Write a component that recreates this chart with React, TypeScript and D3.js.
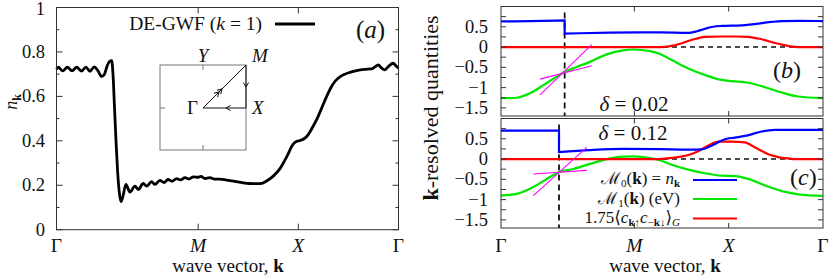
import React from "react";
import * as d3 from "d3";

// ---- path coordinates along Γ–M–X–Γ ----
const S_M = Math.SQRT2;
const S_X = 1 + Math.SQRT2;
const S_END = 2 + Math.SQRT2;
const kTickPos = [0, S_M, S_X, S_END];
const kTickLabels = ["Γ", "M", "X", "Γ"];
const kTickItalic = [false, true, true, false];

// ---- tick labels ----
const nkTicks = [0, 0.2, 0.4, 0.6, 0.8, 1];
const nkTickLabels = ["0", "0.2", "0.4", "0.6", "0.8", "1"];
const nkMinor = [0.1, 0.3, 0.5, 0.7, 0.9];
const qTicks = [0.5, 0, -0.5, -1, -1.5];
const qTickLabels = ["0.5", "0", "−0.5", "−1", "−1.5"];
const qMinor = [0.75, 0.25, -0.25, -0.75, -1.25];

// ---- panel (a): n_k along path ----
const nkData: [number, number][] = [
  [0.0, 0.722], [0.018, 0.731], [0.062, 0.715], [0.108, 0.731], [0.155, 0.715],
  [0.202, 0.731], [0.248, 0.714], [0.294, 0.732], [0.334, 0.713], [0.377, 0.733],
  [0.414, 0.715], [0.451, 0.69], [0.479, 0.7], [0.504, 0.735], [0.529, 0.757],
  [0.551, 0.761], [0.564, 0.7], [0.579, 0.55], [0.594, 0.4], [0.609, 0.27],
  [0.629, 0.16], [0.644, 0.126], [0.663, 0.15], [0.693, 0.204], [0.733, 0.169],
  [0.783, 0.196], [0.816, 0.181], [0.866, 0.208], [0.9, 0.196], [0.95, 0.216],
  [0.983, 0.204], [1.033, 0.222], [1.073, 0.212], [1.113, 0.226], [1.153, 0.218],
  [1.198, 0.23], [1.238, 0.224], [1.282, 0.234], [1.322, 0.228], [1.367, 0.238],
  [1.415, 0.236], [1.442, 0.24], [1.482, 0.23], [1.532, 0.234], [1.572, 0.228],
  [1.632, 0.228], [1.699, 0.223], [1.781, 0.217], [1.864, 0.211], [1.931, 0.208],
  [1.998, 0.207], [2.051, 0.209], [2.101, 0.22], [2.164, 0.241], [2.231, 0.275],
  [2.3, 0.33], [2.363, 0.385], [2.4, 0.398], [2.43, 0.401], [2.48, 0.412],
  [2.513, 0.428], [2.555, 0.46], [2.597, 0.495], [2.645, 0.545], [2.697, 0.6],
  [2.74, 0.64], [2.779, 0.667], [2.829, 0.688], [2.879, 0.7], [2.929, 0.708],
  [2.996, 0.716], [3.049, 0.72], [3.112, 0.723], [3.149, 0.724], [3.179, 0.733],
  [3.212, 0.742], [3.244, 0.728], [3.275, 0.719], [3.315, 0.735], [3.361, 0.749],
  [3.388, 0.738], [3.414, 0.727],
];

// ---- panel (b): δ = 0.02 ----
const stepB = 0.675;
const blueB1: [number, number][] = [[0, 0.632], [0.308, 0.64], [0.675, 0.657]];
const blueB2: [number, number][] = [
  [0.675, 0.33], [0.838, 0.34], [1.156, 0.355], [1.474, 0.36], [1.686, 0.36],
  [1.986, 0.35], [2.078, 0.39], [2.163, 0.45], [2.248, 0.5], [2.34, 0.52],
  [2.553, 0.535], [2.659, 0.56], [2.765, 0.59], [2.871, 0.62], [2.977, 0.64],
  [3.171, 0.645], [3.414, 0.64],
];
const redB: [number, number][] = [
  [0, 0], [1.0, 0], [1.686, 0], [1.81, 0.03], [1.898, 0.08], [1.986, 0.15],
  [2.078, 0.21], [2.163, 0.25], [2.34, 0.26], [2.481, 0.26], [2.619, 0.25],
  [2.725, 0.21], [2.831, 0.15], [2.906, 0.1], [2.977, 0.06], [3.065, 0.02],
  [3.149, 0], [3.414, 0],
];
const greenB: [number, number][] = [
  [0, -1.26], [0.166, -1.25], [0.308, -1.14], [0.449, -0.94], [0.591, -0.73],
  [0.679, -0.61], [0.803, -0.49], [0.944, -0.365], [1.121, -0.18], [1.297, -0.08],
  [1.403, -0.06], [1.58, -0.1], [1.686, -0.17], [1.81, -0.32], [1.986, -0.53],
  [2.163, -0.69], [2.34, -0.81], [2.446, -0.84], [2.622, -0.88], [2.8, -0.99],
  [2.977, -1.12], [3.153, -1.22], [3.414, -1.26],
];
const tanB1: [number, number][] = [[0.414, -1.18], [0.962, 0.06]];
const tanB2: [number, number][] = [[0.414, -0.79], [0.962, -0.46]];

// ---- panel (c): δ = 0.12 ----
const stepC = 0.615;
const blueC1: [number, number][] = [[0, 0.7], [0.3, 0.7], [0.615, 0.7]];
const blueC2: [number, number][] = [
  [0.615, 0.17], [0.944, 0.22], [1.297, 0.25], [1.686, 0.245], [1.986, 0.235],
  [2.128, 0.24], [2.195, 0.29], [2.27, 0.37], [2.323, 0.44], [2.375, 0.49],
  [2.481, 0.53], [2.587, 0.57], [2.672, 0.62], [2.765, 0.68], [2.906, 0.72],
  [3.118, 0.72], [3.414, 0.72],
];
const redC: [number, number][] = [
  [0, 0], [1.0, 0], [1.633, 0], [1.81, 0.03], [1.986, 0.1], [2.078, 0.18],
  [2.163, 0.29], [2.237, 0.38], [2.304, 0.43], [2.446, 0.43], [2.587, 0.41],
  [2.64, 0.36], [2.693, 0.29], [2.765, 0.2], [2.834, 0.12], [2.906, 0.07],
  [2.977, 0.03], [3.065, 0.01], [3.118, 0], [3.414, 0],
];
const greenC: [number, number][] = [
  [0, -0.9], [0.166, -0.86], [0.343, -0.69], [0.485, -0.49], [0.608, -0.33],
  [0.767, -0.245], [0.944, -0.12], [1.121, 0.0], [1.297, 0.06], [1.403, 0.065],
  [1.58, 0.025], [1.686, -0.03], [1.81, -0.14], [1.986, -0.26], [2.163, -0.35],
  [2.34, -0.41], [2.481, -0.42], [2.622, -0.49], [2.8, -0.65], [2.977, -0.79],
  [3.153, -0.87], [3.414, -0.91],
];
const tanC1: [number, number][] = [[0.343, -0.9], [0.909, 0.29]];
const tanC2: [number, number][] = [[0.343, -0.37], [0.909, -0.28]];

const FONT = "'Liberation Serif', 'DejaVu Serif', serif";
const BLUE = "#0000ff";
const RED = "#ff0000";
const GREEN = "#00e800";
const MAGENTA = "#ff00ff";
const FRAME = "#333";

type XY = [number, number];

function smooth(x: any, y: any, data: XY[]) {
  return d3
    .line<XY>()
    .x((d) => x(d[0]))
    .y((d) => y(d[1]))
    .curve(d3.curveMonotoneX)(data) as string;
}
function straight(x: any, y: any, data: XY[]) {
  return d3
    .line<XY>()
    .x((d) => x(d[0]))
    .y((d) => y(d[1]))(data) as string;
}
function stepPath(x: any, y: any, a: XY[], b: XY[]) {
  return smooth(x, y, a) + "L" + smooth(x, y, b).slice(1);
}

function KTicks({ x, y0, y1, len }: any) {
  return (
    <g stroke={FRAME} strokeWidth={1}>
      {[S_M, S_X].map((s, i) => (
        <g key={i}>
          <line x1={x(s)} x2={x(s)} y1={y0} y2={y0 - len} />
          <line x1={x(s)} x2={x(s)} y1={y1} y2={y1 + len} />
        </g>
      ))}
    </g>
  );
}

function KLabels({ x, titleX }: any) {
  return (
    <g fontFamily={FONT} fontSize={19.5} textAnchor="middle" fill="#111">
      {kTickPos.map((s, i) => (
        <text key={i} x={x(s)} y={252} fontStyle={kTickItalic[i] ? "italic" : "normal"}>
          {kTickLabels[i]}
        </text>
      ))}
      <text x={titleX} y={272} fontSize={19}>
        wave vector, <tspan fontWeight="bold">k</tspan>
      </text>
    </g>
  );
}

function PanelRight({ x, y, top, bottom, blue1, blue2, red, green, tan1, tan2, step }: any) {
  const [xl, xr] = x.range();
  return (
    <g>
      <line x1={xl} x2={xr} y1={y(0)} y2={y(0)} stroke="#111" strokeWidth={1.4} strokeDasharray="5,4" />
      <line x1={x(step)} x2={x(step)} y1={y(0.85)} y2={bottom} stroke="#111" strokeWidth={1.8} strokeDasharray="6,4" />
      <path d={smooth(x, y, green)} fill="none" stroke={GREEN} strokeWidth={2.2} />
      <path d={smooth(x, y, red)} fill="none" stroke={RED} strokeWidth={2.2} />
      <path d={stepPath(x, y, blue1, blue2)} fill="none" stroke={BLUE} strokeWidth={2.2} />
      <path d={straight(x, y, tan1)} fill="none" stroke={MAGENTA} strokeWidth={1.1} />
      <path d={straight(x, y, tan2)} fill="none" stroke={MAGENTA} strokeWidth={1.1} />
      <rect x={xl} y={top} width={xr - xl} height={bottom - top} fill="none" stroke={FRAME} strokeWidth={1} />
      <g stroke={FRAME} strokeWidth={1}>
        {[...qTicks, ...qMinor].map((v, i) => (
          <g key={i}>
            <line x1={xl} x2={xl + 5} y1={y(v)} y2={y(v)} />
            <line x1={xr} x2={xr - 5} y1={y(v)} y2={y(v)} />
          </g>
        ))}
      </g>
      <KTicks x={x} y0={bottom} y1={top} len={5} />
      <g fontFamily={FONT} fontSize={18.5} textAnchor="end" fill="#111">
        {qTicks.map((v, i) => (
          <text key={i} x={488} y={y(v) + 6}>
            {qTickLabels[i]}
          </text>
        ))}
      </g>
    </g>
  );
}

export default function App() {
  const xA = d3.scaleLinear().domain([0, S_END]).range([56.5, 398.5]);
  const yA = d3.scaleLinear().domain([0, 1]).range([229.7, 7.5]);
  const xR = d3.scaleLinear().domain([0, S_END]).range([501, 823]);
  const yB = d3.scaleLinear().domain([-1.7, 1]).range([116, 6.5]);
  const yC = d3.scaleLinear().domain([-1.7, 1]).range([228, 118.5]);

  const arrow = (cx: number, cy: number, ang: number) => (
    <path
      d="M -4.5 -2.6 L 0 0 L -4.5 2.6"
      transform={`translate(${cx},${cy}) rotate(${ang})`}
      fill="none"
      stroke="#111"
      strokeWidth={1}
    />
  );

  return (
    <svg width={830} height={277} style={{ display: "block", position: "absolute", left: 0, top: 0 }}>
      <rect width={830} height={277} fill="#fff" />

      {/* ===== Panel (a) ===== */}
      <path d={smooth(xA, yA, nkData)} fill="none" stroke="#000" strokeWidth={2.8} strokeLinejoin="round" />
      <rect x={56.5} y={7.5} width={342} height={222.2} fill="none" stroke={FRAME} strokeWidth={1} />
      <g stroke={FRAME} strokeWidth={1}>
        {nkTicks.map((v, i) => (
          <g key={"M" + i}>
            <line x1={56.5} x2={62.5} y1={yA(v)} y2={yA(v)} />
            <line x1={398.5} x2={392.5} y1={yA(v)} y2={yA(v)} />
          </g>
        ))}
        {nkMinor.map((v, i) => (
          <g key={"m" + i}>
            <line x1={56.5} x2={59.5} y1={yA(v)} y2={yA(v)} />
            <line x1={398.5} x2={395.5} y1={yA(v)} y2={yA(v)} />
          </g>
        ))}
      </g>
      <KTicks x={xA} y0={229.7} y1={7.5} len={6} />
      <g fontFamily={FONT} fontSize={18.5} textAnchor="end" fill="#111">
        {nkTicks.map((v, i) => (
          <text key={i} x={45} y={yA(v) + (i === nkTicks.length - 1 ? 7 : 6)}>
            {nkTickLabels[i]}
          </text>
        ))}
      </g>
      <KLabels x={xA} titleX={228} />
      <text
        transform="translate(17,102) rotate(-90)"
        fontFamily={FONT}
        fontSize={18}
        textAnchor="middle"
        fill="#111"
      >
        <tspan fontStyle="italic">n</tspan>
        <tspan fontWeight="bold" fontSize={12} dy={3.5}>k</tspan>
      </text>
      {/* legend (a) */}
      <text x={262} y={30} fontFamily={FONT} fontSize={19.5} textAnchor="end" fill="#111">
        DE-GWF (<tspan fontStyle="italic">k</tspan> = 1)
      </text>
      <line x1={275} x2={315} y1={24} y2={24} stroke="#000" strokeWidth={2.8} />
      <text x={356} y={38} fontFamily={FONT} fontSize={25} fill="#111">
        (<tspan fontStyle="italic">a</tspan>)
      </text>

      {/* inset Brillouin zone */}
      <g>
        <rect x={160} y={65} width={86} height={85} fill="none" stroke="#777" strokeWidth={1} />
        <g stroke="#777" strokeWidth={1}>
          <line x1={203} x2={203} y1={65} y2={70} />
          <line x1={203} x2={203} y1={150} y2={145} />
          <line x1={160} x2={165} y1={108} y2={108} />
        </g>
        <g stroke="#111" strokeWidth={1} fill="none">
          <line x1={203} y1={108} x2={246} y2={65} />
          <line x1={246} y1={65} x2={246} y2={108} />
          <line x1={246} y1={108} x2={203} y2={108} />
        </g>
        {arrow(222, 89, -45)}
        {arrow(219, 92, -45)}
        {arrow(246, 87, 90)}
        {arrow(226, 108, 180)}
        <g fontFamily={FONT} fontSize={19} fill="#111">
          <text x={203} y={62} textAnchor="middle" fontStyle="italic">Y</text>
          <text x={252} y={62} fontStyle="italic">M</text>
          <text x={198} y={114} textAnchor="end">Γ</text>
          <text x={252} y={114} fontStyle="italic">X</text>
        </g>
      </g>

      {/* ===== Panel (b) ===== */}
      <PanelRight
        x={xR}
        y={yB}
        top={6.5}
        bottom={116}
        blue1={blueB1}
        blue2={blueB2}
        red={redB}
        green={greenB}
        tan1={tanB1}
        tan2={tanB2}
        step={stepB}
      />
      <text x={634} y={111} fontFamily={FONT} fontSize={21} textAnchor="middle" fill="#111">
        <tspan fontStyle="italic">δ</tspan> = 0.02
      </text>
      <text x={773} y={78} fontFamily={FONT} fontSize={24} fill="#111">
        (<tspan fontStyle="italic">b</tspan>)
      </text>

      {/* ===== Panel (c) ===== */}
      <PanelRight
        x={xR}
        y={yC}
        top={118.5}
        bottom={228}
        blue1={blueC1}
        blue2={blueC2}
        red={redC}
        green={greenC}
        tan1={tanC1}
        tan2={tanC2}
        step={stepC}
      />
      <text x={633} y={140} fontFamily={FONT} fontSize={21} textAnchor="middle" fill="#111">
        <tspan fontStyle="italic">δ</tspan> = 0.12
      </text>
      <text x={790} y={185} fontFamily={FONT} fontSize={24} fill="#111">
        (<tspan fontStyle="italic">c</tspan>)
      </text>

      {/* legend (c) */}
      <g fontFamily={FONT} fontSize={17} fill="#111" textAnchor="end">
        <text x={680} y={184}>
          ℳ<tspan fontSize={11} dy={2.5}>0</tspan>
          <tspan dy={-2.5}>(</tspan>
          <tspan fontWeight="bold">k</tspan>) = <tspan fontStyle="italic">n</tspan>
          <tspan fontWeight="bold" fontSize={11} dy={2.5}>k</tspan>
        </text>
        <text x={680} y={204}>
          ℳ<tspan fontSize={11} dy={2.5}>1</tspan>
          <tspan dy={-2.5}>(</tspan>
          <tspan fontWeight="bold">k</tspan>) (eV)
        </text>
        <text x={680} y={223}>
          1.75⟨<tspan fontStyle="italic">c</tspan>
          <tspan fontSize={11} dy={2.5}>
            <tspan fontWeight="bold">k</tspan>↑
          </tspan>
          <tspan fontStyle="italic" dy={-2.5}>c</tspan>
          <tspan fontSize={11} dy={2.5}>
            −<tspan fontWeight="bold">k</tspan>↓
          </tspan>
          <tspan dy={-2.5}>⟩</tspan>
          <tspan fontSize={11} fontStyle="italic" dy={2.5}>G</tspan>
        </text>
      </g>
      <line x1={693} x2={737} y1={180} y2={180} stroke={BLUE} strokeWidth={2.2} />
      <line x1={693} x2={737} y1={199} y2={199} stroke={GREEN} strokeWidth={2.2} />
      <line x1={693} x2={737} y1={218.5} y2={218.5} stroke={RED} strokeWidth={2.2} />

      <KLabels x={xR} titleX={665} />
      <text
        transform="translate(438,108) rotate(-90)"
        fontFamily={FONT}
        fontSize={22}
        textAnchor="middle"
        fill="#111"
      >
        <tspan fontWeight="bold">k</tspan>-resolved quantities
      </text>
    </svg>
  );
}
